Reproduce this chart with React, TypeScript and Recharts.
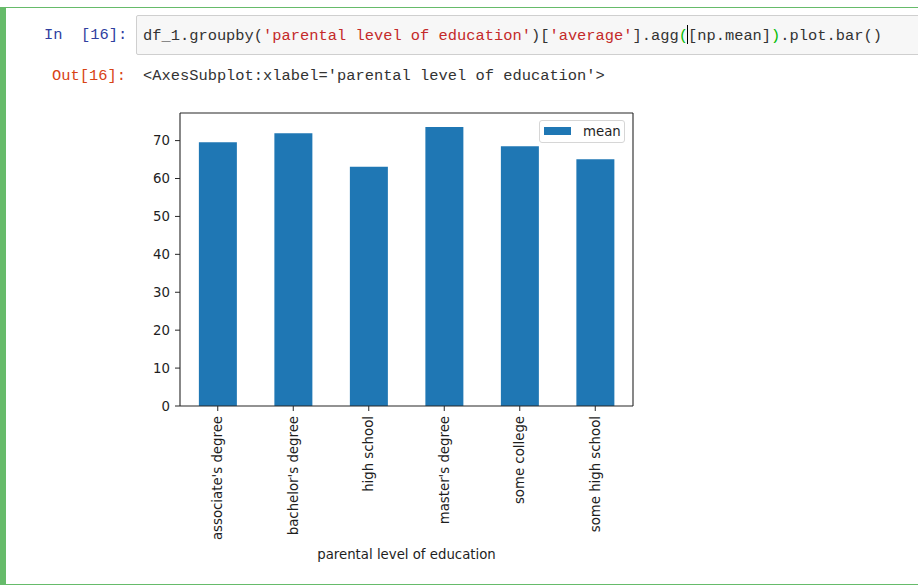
import { BarChart, Bar, XAxis, YAxis, Legend, Label } from 'recharts';

const categories = [
  "associate's degree",
  "bachelor's degree",
  'high school',
  "master's degree",
  'some college',
  'some high school',
];
const meanScores = [69.57, 71.92, 63.1, 73.6, 68.48, 65.11];
const yTicks = [0, 10, 20, 30, 40, 50, 60, 70];

const data = categories.map((name, i) => ({ name, mean: meanScores[i] }));

const MONO = '"Liberation Mono", "DejaVu Sans Mono", monospace';
const SANS = '"DejaVu Sans", sans-serif';
const FS = 13.3;
const INK = '#1e1e1e';
const SPINE = '#262626';

function RotatedTick({ x, y, payload }: any) {
  return (
    <text
      x={x}
      y={y}
      transform={`rotate(-90, ${x}, ${y})`}
      textAnchor="end"
      dy="0.33em"
      fontFamily={SANS}
      fontSize={FS}
      fill={INK}
    >
      {payload.value}
    </text>
  );
}

function MeanLegend() {
  return (
    <div
      style={{
        position: 'relative',
        width: 86,
        height: 23,
        boxSizing: 'border-box',
        border: '1px solid #d6d6d6',
        borderRadius: 3,
        background: 'rgba(255,255,255,0.8)',
      }}
    >
      <div style={{ position: 'absolute', left: 4, top: 6, width: 27, height: 8, background: '#1f77b4' }} />
      <div
        style={{
          position: 'absolute',
          left: 43,
          top: 0,
          lineHeight: '21px',
          fontFamily: SANS,
          fontSize: FS,
          color: INK,
        }}
      >
        mean
      </div>
    </div>
  );
}

function Code() {
  const red = '#c42a2a';
  const green = '#0b0';
  return (
    <span>
      df_1.groupby(<span style={{ color: red }}>'parental level of education'</span>)[
      <span style={{ color: red }}>'average'</span>].agg<span style={{ color: green }}>(</span>
      <span
        style={{
          display: 'inline-block',
          width: 0,
          height: 19,
          borderLeft: '1px solid #000',
          marginLeft: -1,
          verticalAlign: -4,
        }}
      />
      [np.mean]<span style={{ color: green }}>)</span>.plot.bar()
    </span>
  );
}

export default function App() {
  const mono = { fontFamily: MONO, fontSize: 15.4, lineHeight: '20px', whiteSpace: 'pre' as const };
  return (
    <div style={{ position: 'absolute', left: 0, top: 0, width: 918, height: 586, overflow: 'hidden', background: '#fff' }}>
      {/* selected cell frame */}
      <div
        style={{
          position: 'absolute',
          left: 0,
          top: 7,
          width: 940,
          height: 578,
          boxSizing: 'border-box',
          border: '1px solid #66bb6a',
          borderLeft: '6px solid #66bb6a',
        }}
      />
      <div style={{ ...mono, position: 'absolute', left: 44, top: 25, color: '#303f9f' }}>In  [16]:</div>
      <div
        style={{
          position: 'absolute',
          left: 136,
          top: 15,
          width: 820,
          height: 40,
          boxSizing: 'border-box',
          background: '#f7f7f7',
          border: '1px solid #cfcfcf',
          borderRadius: 2,
        }}
      />
      <div style={{ ...mono, position: 'absolute', left: 143, top: 25, color: '#333' }}>
        <Code />
      </div>
      <div style={{ ...mono, position: 'absolute', left: 52, top: 66, color: '#d84315' }}>Out[16]:</div>
      <div style={{ ...mono, position: 'absolute', left: 143, top: 66, color: '#333' }}>
        {"<AxesSubplot:xlabel='parental level of education'>"}
      </div>

      <div style={{ position: 'absolute', left: 100, top: 95 }}>
        <BarChart
          width={560}
          height={480}
          data={data}
          margin={{ top: 17, right: 26, bottom: 14, left: 30 }}
          barCategoryGap="25%"
        >
          <XAxis
            dataKey="name"
            height={155}
            interval={0}
            tick={<RotatedTick />}
            tickSize={5}
            tickMargin={5}
            tickLine={{ stroke: SPINE }}
            axisLine={{ stroke: SPINE, strokeWidth: 1.1 }}
          >
            <Label
              value="parental level of education"
              position="insideBottom"
              offset={2}
              style={{ fontFamily: SANS, fontSize: FS, fill: INK }}
            />
          </XAxis>
          <XAxis
            xAxisId="top"
            dataKey="name"
            orientation="top"
            height={1}
            tick={false}
            tickLine={false}
            axisLine={{ stroke: SPINE, strokeWidth: 1.1 }}
          />
          <YAxis
            width={50}
            domain={[0, 77.28]}
            ticks={yTicks}
            tickSize={5}
            tickMargin={5}
            tick={{ fontFamily: SANS, fontSize: FS, fill: INK }}
            tickLine={{ stroke: SPINE }}
            axisLine={{ stroke: SPINE, strokeWidth: 1.1 }}
          />
          <YAxis
            yAxisId="right"
            orientation="right"
            width={1}
            domain={[0, 77.28]}
            tick={false}
            tickLine={false}
            axisLine={{ stroke: SPINE, strokeWidth: 1.1 }}
          />
          <Legend
            layout="horizontal"
            verticalAlign="middle"
            align="center"
            content={() => <MeanLegend />}
            wrapperStyle={{ left: 439, top: 25, width: 86, height: 23 }}
          />
          <Bar dataKey="mean" name="mean" fill="#1f77b4" isAnimationActive={false} />
        </BarChart>
      </div>
    </div>
  );
}
